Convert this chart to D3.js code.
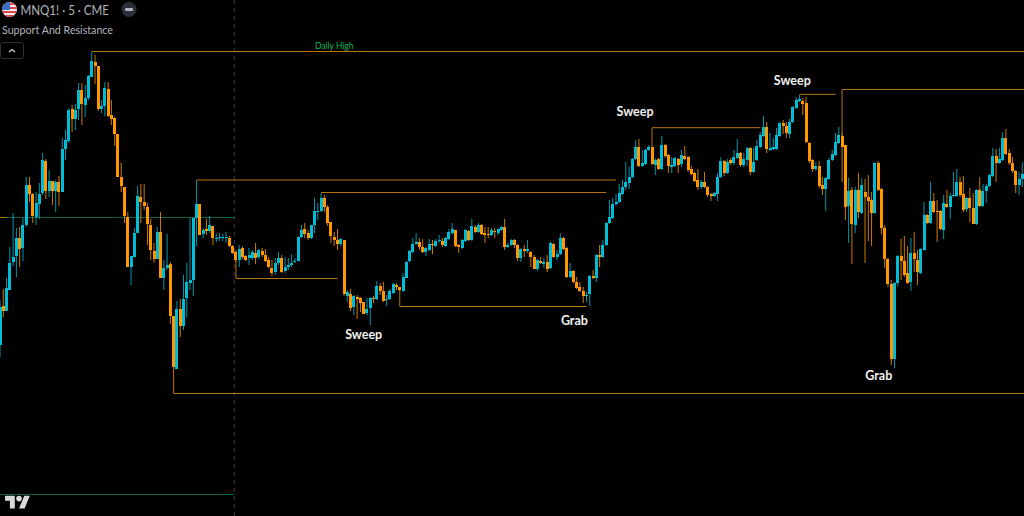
<!DOCTYPE html>
<html>
<head>
<meta charset="utf-8">
<title>MNQ1! 5 CME</title>
<script src="https://d3js.org/d3.v7.min.js"></script>
<style>
    html, body { margin: 0; padding: 0; background: #000; overflow: hidden; }
    svg { display: block; }
</style>
</head>
<body>
<div id="chart"></div>
<script>
// candles as [open, high, low, close], points on an arbitrary base
const candlesA = [
[655,700,643,693],[694,711,683,689],[689,722,689,712],[710,753,710,737],[738,787,734,743],[744,772,723,762],
[762,773,733,751],[752,782,739,775],[775,823,773,815],[815,823,798,806],[806,807,777,784],[783,808,775,797],
[796,817,781,806],[807,847,805,840],[839,841,801,809],[809,830,803,819],[819,819,795,809],[809,820,788,818],
[818,824,794,808],[808,862,808,851],[851,870,840,860],[859,892,857,890],[891,895,868,881],[881,896,870,890],
[891,917,880,910],[910,917,875,896],[895,915,883,902],[902,925,900,924],[923,948,923,939],[938,945,916,934],
[934,934,889,891],[891,900,887,894],[894,918,884,912],[911,918,883,884],[885,900,875,881],[882,883,854,866],
[866,866,823,823],[823,837,808,814],[813,813,777,784],[783,788,733,733],[733,744,715,744]
];
const candlesB = [
[743,772,743,767],[767,814,767,804],[803,816,777,798],[798,816,790,794],[793,797,755,776],[775,781,740,750],
[749,757,737,741],[741,773,741,768],[768,788,722,722],[722,740,710,732],[732,766,730,735],[736,738,676,684],
[684,684,607,633],[631,699,631,691],[691,701,663,674],[674,725,670,701],[702,737,683,718],[717,782,710,720],
[720,782,704,782],[782,820,754,796],[796,796,765,765],[766,772,762,770],[771,781,765,769],[769,784,767,775],
[774,774,755,762],[761,766,758,762],[762,767,759,763],[762,766,759,763],[762,768,757,763],[762,764,753,754],
[754,755,746,747],[748,750,738,740],[740,755,733,751],[752,754,741,743],[744,745,739,740],[742,752,735,745],
[742,750,740,748],[747,757,736,742],[743,751,741,750],[749,752,743,745]
];
const candlesC = [
[745,751,738,739],[740,743,732,733],[732,740,724,727],[728,742,725,737],[737,748,735,742],[742,745,727,728],
[729,743,727,733],[733,742,730,735],[735,746,733,737],[738,742,737,739],[739,764,739,763],[763,775,762,770],
[771,777,762,766],[767,770,760,762],[762,775,761,775],[775,802,767,789],[788,797,780,789],[789,807,788,802],
[802,805,788,793],[793,795,774,777],[778,778,757,764],[763,768,754,760],[760,771,750,756],[756,762,754,761],
[760,760,704,706],[704,710,698,708],[706,711,689,692],[693,705,685,704],[703,705,681,701],[702,703,688,697],
[698,698,686,686],[687,702,685,691],[692,703,675,702],[702,704,697,701],[701,719,700,714],[714,717,705,709],
[709,718,698,699],[700,705,694,701],[701,711,700,709],[707,717,706,716],[715,717,710,713],[713,713,709,710],
[709,727,708,723],[722,739,722,738],[739,750,738,749],[748,762,747,756],[756,767,755,758],[758,762,750,753],
[753,761,747,748],[748,753,744,752]
];
const candlesD = [
[750,761,749,756],[756,760,746,755],[754,761,753,759],[759,765,757,760],[759,762,753,755],[754,763,753,762],
[761,771,760,768],[767,777,765,771],[770,770,753,754],[755,756,747,753],[752,761,751,760],[759,771,758,770],
[769,770,759,760],[760,781,759,774],[773,775,767,768],[768,777,767,775],[775,776,765,766],[767,773,757,765],
[766,773,762,765],[765,772,764,770],[769,772,762,768],[767,772,765,771],[770,774,769,773],[773,781,750,753],
[753,757,752,755],[755,761,754,760],[760,761,752,755],[755,756,739,742],[742,752,738,751],[751,755,743,749],
[749,760,747,751],[748,749,733,743],[743,745,731,731],[731,741,729,740],[739,743,736,737],[736,742,732,738],
[738,745,728,731],[732,758,731,757],[756,757,742,743],[743,750,740,746],[746,767,745,762],[762,763,750,751],
[752,753,722,723],[723,737,722,729],[729,730,717,718],[718,723,711,712],[713,718,708,709],[709,713,697,704],
[704,708,698,705],[706,725,694,724],[724,730,721,722],[722,746,718,745],[745,755,733,743],[743,760,742,755],
[755,778,754,777],[777,800,776,783],[782,802,781,796],[796,806,794,798],[798,816,797,807],[806,820,805,813]
];
const candlesE = [
[813,838,810,818],[817,833,811,823],[823,842,822,841],[841,860,840,853],[853,861,833,834],[834,850,833,837],
[836,851,835,850],[850,855,849,853],[853,853,835,836],[835,842,825,840],[841,842,830,831],[831,864,830,855],
[855,856,842,844],[845,846,827,834],[833,843,827,835],[834,843,833,842],[841,842,827,835],[836,850,833,845],
[844,854,840,841],[843,844,828,830],[831,834,825,826],[827,828,818,819],[820,831,810,813],[813,820,811,818],
[818,828,812,813],[813,814,803,805],[806,807,799,804],[804,808,803,807],[806,827,799,823],[823,843,822,839],
[839,840,824,827],[827,841,826,838],[840,842,835,837],[837,850,835,843],[842,861,841,847],[847,848,833,835],
[835,847,833,841],[840,853,834,852],[852,853,825,828],[828,852,827,838],[840,860,839,854],[853,868,852,865],
[864,884,863,873],[873,878,847,851],[850,867,849,852],[851,862,850,853],[851,872,850,865],[864,878,863,877],
[877,880,866,874],[874,878,862,867],[866,881,862,878],[878,894,877,893],[892,903,891,900],[899,905,898,901],
[899,902,885,896],[897,903,857,858],[857,858,837,839],[840,841,828,831],[831,838,829,834],[834,839,812,814]
];
const candlesF = [
[815,823,805,811],[811,823,789,822],[821,842,820,840],[840,850,839,846],[845,867,844,858],[857,873,856,865],
[864,867,818,853],[855,855,780,793],[794,822,757,809],[810,813,736,776],[775,813,767,810],[810,827,782,788],
[787,822,786,815],[808,821,737,803],[803,825,759,799],[800,808,754,787],[787,838,786,837],[837,839,809,810],
[811,812,766,772],[772,775,732,741],[741,742,713,716],[716,720,635,641],[641,718,632,717],[717,745,714,744],
[744,761,720,739],[739,764,723,725],[727,754,716,717],[718,762,709,747],[747,768,728,741],[740,750,715,728],
[727,752,726,751],[750,798,749,785],[785,786,776,777],[777,818,776,799],[799,807,787,788],[789,800,758,788],
[789,790,770,771],[770,805,761,797],[796,810,792,793],[793,807,781,804],[804,828,803,805],[804,831,803,818],
[818,823,803,805],[806,824,788,790],[791,803,788,802],[802,812,778,792],[792,807,776,776],[776,811,775,810],
[810,823,793,794],[794,816,793,809],[809,816,797,814],[814,826,813,825],[824,852,823,844],[844,851,818,837],
[837,852,836,841],[840,868,839,862],[862,871,845,846],[847,851,835,837],[837,843,827,829],[829,830,807,815],
[815,828,805,821],[821,838,813,826]
];

// support / resistance levels: [from bar, to bar, price, price the level was anchored on]
const levels = [
    [28, 313, 948.5, null],
    [60, 188, 820, null],
    [98, 185, 807.5, null],
    [72, 103, 721.5, 740],
    [122, 179, 693.5, 710],
    [199, 232, 872.3, 853],
    [244, 255, 905.7, null],
    [257, 313, 910.5, 864],
    [53, 313, 606.5, null],
    [0, 2, 782.5, null]
];

// session lines on the left: [to bar, price]
const sessionLines = [[71.5, 782.5], [71.5, 505.5]];
const sessionBreakBar = 71.5;

// annotations: [text, bar, price]
const annotations = [
    ["Sweep", 111, 665],
    ["Grab", 175.3, 679],
    ["Sweep", 193.8, 888],
    ["Sweep", 241.8, 919],
    ["Grab", 268.2, 624]
];
const dailyHighLabel = ["Daily High", 102, 954];

const symbolTitle = "MNQ1! · 5 · CME";
const indicatorTitle = "Support And Resistance";

const colorUp = "#00bcd4";
const colorDown = "#ff9800";
const colorLevel = "#b8730f";
const colorSession = "#0c6243";
const labelFont = "Lato, sans-serif";

const width = 1024, height = 516;
const candles = d3.merge([candlesA, candlesB, candlesC, candlesD, candlesE, candlesF]);

// one pixel of picture is one price point here
const xScale = d3.scaleLinear().domain([0, candles.length - 1]).range([0, 1022.3]);
const yScale = d3.scaleLinear().domain([1000, 484]).range([0, 516]);

const svg = d3.select("#chart").append("svg")
    .attr("width", width)
    .attr("height", height)
    .style("background", "#000");

// session break
svg.append("line")
    .attr("x1", xScale(sessionBreakBar)).attr("x2", xScale(sessionBreakBar))
    .attr("y1", 0).attr("y2", height)
    .attr("stroke", "#3a3d45")
    .attr("stroke-dasharray", "4,4");

// session lines
svg.append("g").selectAll("line")
    .data(sessionLines)
    .enter().append("line")
    .attr("x1", 0)
    .attr("x2", d => xScale(d[0]))
    .attr("y1", d => yScale(d[1]))
    .attr("y2", d => yScale(d[1]))
    .attr("stroke", colorSession);

// wicks first, bodies on top
const bars = svg.append("g");
bars.selectAll("line")
    .data(candles)
    .enter().append("line")
    .attr("x1", (d, i) => xScale(i))
    .attr("x2", (d, i) => xScale(i))
    .attr("y1", d => yScale(d[1]))
    .attr("y2", d => yScale(d[2]))
    .attr("stroke", d => d[3] >= d[0] ? colorUp : colorDown)
    .attr("stroke-opacity", 0.8);

// bodies snap to whole pixels like the platform does
bars.selectAll("rect")
    .data(candles)
    .enter().append("rect")
    .attr("x", (d, i) => Math.round(xScale(i) - 1.5))
    .attr("width", 3)
    .attr("y", d => yScale(Math.max(d[0], d[3])))
    .attr("height", d => Math.max(1, Math.abs(yScale(d[0]) - yScale(d[3]))))
    .attr("fill", d => d[3] >= d[0] ? colorUp : colorDown);

// levels
const levelLine = d3.line().x(d => xScale(d[0])).y(d => yScale(d[1]));
svg.append("g").selectAll("path")
    .data(levels)
    .enter().append("path")
    .attr("fill", "none")
    .attr("stroke", colorLevel)
    .attr("d", d => {
        let pts = [[d[0], d[2]], [d[1], d[2]]];
        if (d[3] !== null) pts.unshift([d[0], d[3]]);
        return levelLine(pts);
    });

svg.append("text")
    .attr("x", xScale(dailyHighLabel[1]))
    .attr("y", yScale(dailyHighLabel[2]) + 3)
    .attr("text-anchor", "middle")
    .attr("font-family", labelFont)
    .attr("font-size", 8.5)
    .attr("fill", "#11b85c")
    .text(dailyHighLabel[0]);

svg.append("g").selectAll("text")
    .data(annotations)
    .enter().append("text")
    .attr("x", d => xScale(d[1]))
    .attr("y", d => yScale(d[2]) + 4)
    .attr("text-anchor", "middle")
    .attr("font-family", labelFont)
    .attr("font-weight", 700)
    .attr("font-size", 12.5)
    .attr("fill", "#f0f0f0")
    .text(d => d[0]);

// header: flag
const defs = svg.append("defs");
defs.append("clipPath").attr("id", "flag-clip")
    .append("circle").attr("cx", 9.5).attr("cy", 9.5).attr("r", 7.5);
const flag = svg.append("g").attr("clip-path", "url(#flag-clip)");
flag.append("rect").attr("x", 2).attr("y", 2).attr("width", 15).attr("height", 15).attr("fill", "#ececec");
d3.range(4).forEach(k => {
    flag.append("rect").attr("x", 2).attr("y", 3 + k * 4).attr("width", 15).attr("height", 2).attr("fill", "#e0434b");
});
flag.append("rect").attr("x", 2).attr("y", 2).attr("width", 8).attr("height", 8).attr("fill", "#3f6fc4");

svg.append("text")
    .attr("x", 20.5).attr("y", 14.5)
    .attr("font-family", labelFont)
    .attr("font-size", 13.5)
    .attr("textLength", 88.5)
    .attr("lengthAdjust", "spacingAndGlyphs")
    .attr("fill", "#b2b5be")
    .text(symbolTitle);

svg.append("circle").attr("cx", 129).attr("cy", 9.5).attr("r", 7.5).attr("fill", "#2a2e39");
svg.append("rect").attr("x", 125).attr("y", 8).attr("width", 8).attr("height", 3).attr("rx", 1).attr("fill", "#b2b5be");

svg.append("text")
    .attr("x", 2).attr("y", 33.5)
    .attr("font-family", labelFont)
    .attr("font-size", 11)
    .attr("textLength", 111)
    .attr("lengthAdjust", "spacingAndGlyphs")
    .attr("fill", "#b2b5be")
    .text(indicatorTitle);

svg.append("rect")
    .attr("x", 0.5).attr("y", 42.5).attr("width", 23).attr("height", 16).attr("rx", 2)
    .attr("fill", "#000").attr("stroke", "#2a2e39");
svg.append("path")
    .attr("d", "M9 52L12 49.5L15 52")
    .attr("fill", "none").attr("stroke", "#d1d4dc").attr("stroke-width", 1.3);

// watermark logo
svg.append("path")
    .attr("transform", "translate(5,493) scale(0.7)")
    .attr("d", "M14 22H7V11H0V4h14v18zM28 22h-8l7.5-18h8L28 22z")
    .attr("fill", "#d8d8d8");
svg.append("circle")
    .attr("transform", "translate(5,493) scale(0.7)")
    .attr("cx", 20).attr("cy", 8).attr("r", 4)
    .attr("fill", "#d8d8d8");
</script>
</body>
</html>
